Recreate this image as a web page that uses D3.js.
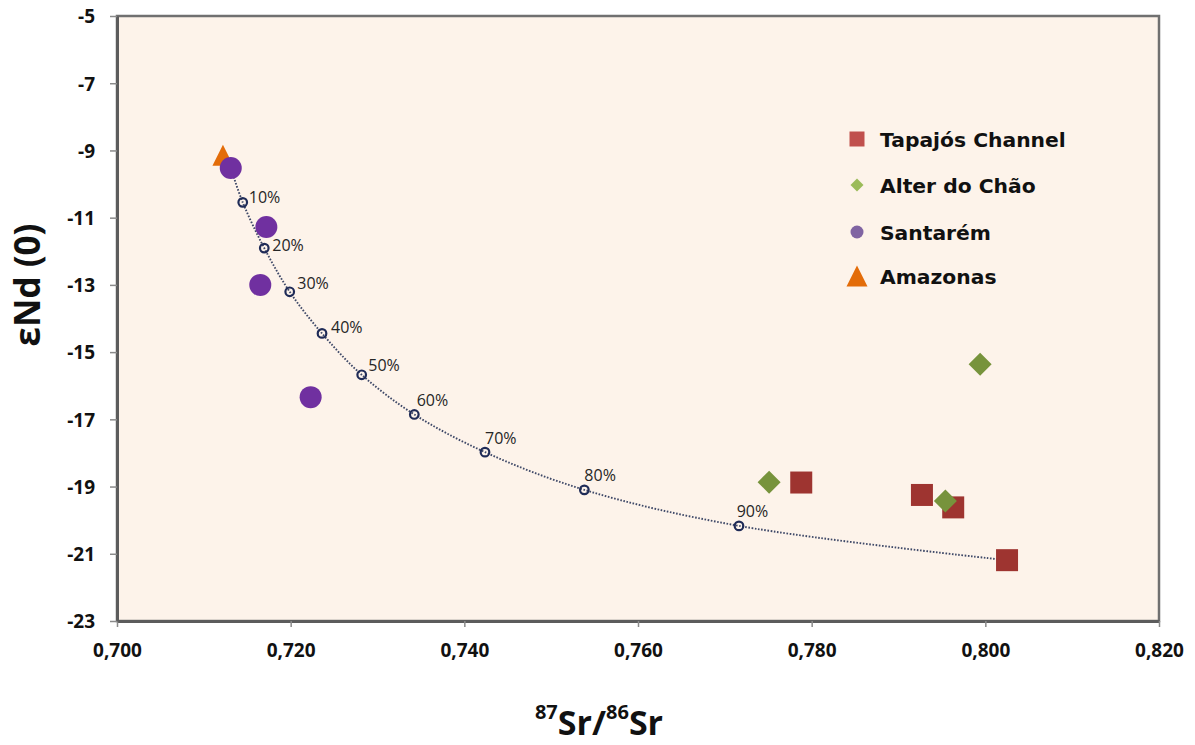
<!DOCTYPE html>
<html>
<head>
<meta charset="utf-8">
<script src="https://cdn.jsdelivr.net/npm/d3@7"></script>
<style>
  html, body { margin: 0; padding: 0; background: #ffffff; }
  svg { display: block; }
</style>
</head>
<body>
<svg id="chart" width="1195" height="745"></svg>
<script>
// ---- Data -------------------------------------------------------------
// Tapajós Channel samples
const tapajosSr = [0.7788, 0.7927, 0.7963, 0.8025];
const tapajosNd = [-18.88, -19.25, -19.62, -21.19];
// Alter do Chão samples
const alterSr = [0.7751, 0.7954, 0.7994];
const alterNd = [-18.87, -19.43, -15.36];
// Santarém samples
const santaremSr = [0.7131, 0.7172, 0.7165, 0.7223];
const santaremNd = [-9.52, -11.28, -13.0, -16.34];
// Amazonas sample
const amazonasSr = [0.7122];
const amazonasNd = [-9.14];
// Binary mixing curve (fraction of the radiogenic end-member, %)
const mixFraction = [0, 10, 20, 30, 40, 50, 60, 70, 80, 90, 100];
const mixSr = [0.7131, 0.71448, 0.71696, 0.71989, 0.72361, 0.72818, 0.73424, 0.74238, 0.75382, 0.77163, 0.80246];
const mixNd = [-9.52, -10.545, -11.905, -13.205, -14.444, -15.675, -16.855, -17.976, -19.098, -20.17, -21.19];
// Axis ticks
const xTicks = [0.700, 0.720, 0.740, 0.760, 0.780, 0.800, 0.820];
const yTicks = [-5, -7, -9, -11, -13, -15, -17, -19, -21, -23];
const seriesNames = ["Tapajós Channel", "Alter do Chão", "Santarém", "Amazonas"];

// ---- Layout -----------------------------------------------------------
const plot = { left: 117, right: 1159, top: 16, bottom: 621 };
// label offset (left edge, vertical centre) relative to each mixing marker
const mixLabelOffset = [[6, -5], [8, -2.5], [7.6, -9], [9, -6.5], [6.6, -10], [2.4, -14.5], [0, -14], [0, -14.5], [-2.3, -14.7]];

const svg = d3.select("#chart");
const x = d3.scaleLinear().domain([0.700, 0.820]).range([plot.left, plot.right]);
const y = d3.scaleLinear().domain([-23, -5]).range([plot.bottom, plot.top]);

// plot area
svg.append("rect")
  .attr("x", plot.left).attr("y", plot.top)
  .attr("width", plot.right - plot.left).attr("height", plot.bottom - plot.top)
  .attr("fill", "#fdf3ea").attr("stroke", "#707070").attr("stroke-width", 2.5);

// axes (comma decimal separator, plain hyphen minus)
const fmtX = v => d3.format(".3f")(v).replace(".", ",");
const fmtY = v => String(v);
const xAxis = svg.append("g").attr("transform", `translate(0,${plot.bottom})`)
  .call(d3.axisBottom(x).tickValues(xTicks).tickFormat(fmtX).tickSize(6).tickSizeOuter(0));
const yAxis = svg.append("g").attr("transform", `translate(${plot.left},0)`)
  .call(d3.axisLeft(y).tickValues(yTicks).tickFormat(fmtY).tickSize(7).tickSizeOuter(0));

[xAxis, yAxis].forEach(g => {
  g.select(".domain").attr("stroke", "#5c5c5c").attr("stroke-width", 3);
  g.selectAll(".tick line").attr("stroke", "#8a8a8a").attr("stroke-width", 1.5);
  g.selectAll(".tick text")
    .attr("fill", "#111")
    .style("font-family", "'Open Sans', sans-serif")
    .style("font-weight", "bold")
    .style("font-size", "19px");
});
xAxis.selectAll(".tick text").attr("y", 0).attr("dy", 0).attr("transform", "translate(0,36)");
yAxis.selectAll(".tick text").attr("x", -22).attr("dy", "0.36em");

// mixing curve
const mixPts = mixSr.map((s, i) => [x(s), y(mixNd[i])]);
svg.append("path")
  .attr("d", d3.line().curve(d3.curveCatmullRom.alpha(0.5))(mixPts))
  .attr("fill", "none")
  .attr("stroke", "#3f4968")
  .attr("stroke-width", 1.9)
  .attr("stroke-dasharray", "1.6,1.6");

const inner = mixFraction.map((f, i) => ({ f, s: mixSr[i], n: mixNd[i] })).filter(d => d.f > 0 && d.f < 100);
svg.append("g").selectAll("circle").data(inner).join("circle")
  .attr("cx", d => x(d.s)).attr("cy", d => y(d.n)).attr("r", 4.3)
  .attr("fill", "none").attr("stroke", "#1f2b57").attr("stroke-width", 2.2);
svg.append("g").selectAll("text").data(inner).join("text")
  .attr("x", (d, i) => x(d.s) + mixLabelOffset[i][0])
  .attr("y", (d, i) => y(d.n) + mixLabelOffset[i][1] + 5.8)
  .text(d => d.f + "%")
  .attr("fill", "#262626")
  .style("font-family", "'Open Sans', sans-serif")
  .style("font-size", "16px");

// marker shapes
const squarePath = h => `M${-h},${-h}H${h}V${h}H${-h}Z`;
const diamondPath = h => `M0,${-h}L${h},0L0,${h}L${-h},0Z`;
const trianglePath = (w, ht) => `M0,${-ht / 2}L${w / 2},${ht / 2}L${-w / 2},${ht / 2}Z`;

function drawSeries(xs, ys, pathStr, fill, circleR) {
  const data = xs.map((s, i) => ({ s, n: ys[i] }));
  const g = svg.append("g");
  if (circleR) {
    g.selectAll("circle").data(data).join("circle")
      .attr("cx", d => x(d.s)).attr("cy", d => y(d.n)).attr("r", circleR).attr("fill", fill);
  } else {
    g.selectAll("path").data(data).join("path")
      .attr("d", pathStr).attr("transform", d => `translate(${x(d.s)},${y(d.n)})`).attr("fill", fill);
  }
}
drawSeries(tapajosSr, tapajosNd, squarePath(11), "#9e3430");
drawSeries(alterSr, alterNd, diamondPath(11.5), "#77933c");
drawSeries(amazonasSr, amazonasNd, trianglePath(21, 21), "#e36c09");
drawSeries(santaremSr, santaremNd, null, "#7030a0", 11);

// legend
const legendRows = [
  { name: seriesNames[0], cy: 139, shape: squarePath(7.5), fill: "#c0504d" },
  { name: seriesNames[1], cy: 185, shape: diamondPath(6.5), fill: "#9bbb59" },
  { name: seriesNames[2], cy: 232, circle: 6.5, fill: "#8064a2" },
  { name: seriesNames[3], cy: 276, shape: trianglePath(21, 21), fill: "#e36c09" }
];
const leg = svg.append("g");
legendRows.forEach(r => {
  if (r.circle) {
    leg.append("circle").attr("cx", 857).attr("cy", r.cy).attr("r", r.circle).attr("fill", r.fill);
  } else {
    leg.append("path").attr("d", r.shape).attr("transform", `translate(857,${r.cy})`).attr("fill", r.fill);
  }
  leg.append("text").attr("x", 880).attr("y", r.cy + 7.8).text(r.name)
    .attr("fill", "#111")
    .style("font-family", "'DejaVu Sans', sans-serif")
    .style("font-weight", "bold")
    .style("font-size", "20.3px");
});

// axis titles
svg.append("text")
  .attr("transform", "translate(40,285) rotate(-90)")
  .attr("text-anchor", "middle")
  .style("font-family", "'Open Sans', sans-serif")
  .style("font-weight", "bold")
  .style("font-size", "35px")
  .attr("fill", "#111")
  .text("εNd (0)");

const xt = svg.append("text")
  .attr("x", 599).attr("y", 735)
  .attr("text-anchor", "middle")
  .style("font-family", "'Open Sans', sans-serif")
  .style("font-weight", "bold")
  .attr("fill", "#111");
xt.append("tspan").attr("dy", -16).style("font-size", "20px").text("87");
xt.append("tspan").attr("dy", 16).style("font-size", "34px").text("Sr/");
xt.append("tspan").attr("dy", -16).style("font-size", "20px").text("86");
xt.append("tspan").attr("dy", 16).style("font-size", "34px").text("Sr");
</script>
</body>
</html>
